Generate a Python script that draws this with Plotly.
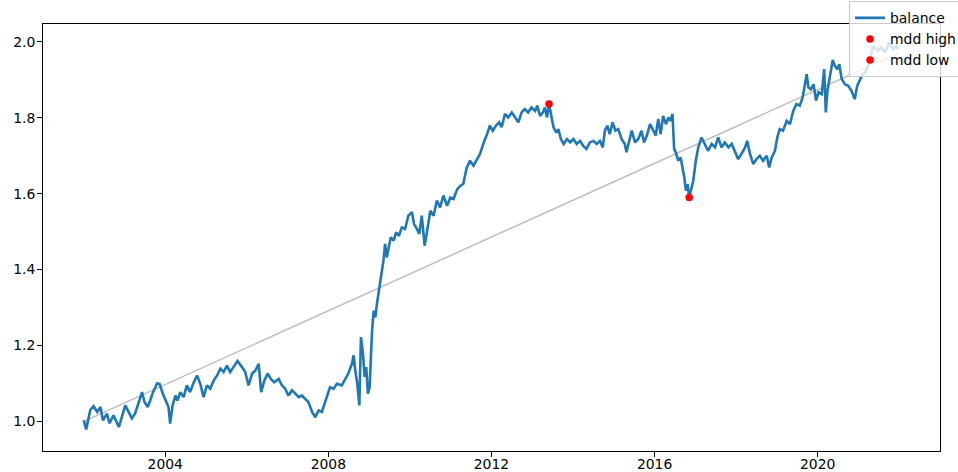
import pandas as pd
import plotly.graph_objects as go

# Account balance over time (decimal years) and its values
years = [
    2002.00, 2002.06, 2002.16, 2002.24, 2002.33, 2002.41, 2002.47, 2002.57, 2002.63, 2002.73,
    2002.86, 2002.94, 2003.02, 2003.10, 2003.18, 2003.26, 2003.35, 2003.43, 2003.49, 2003.57,
    2003.63, 2003.70, 2003.80, 2003.86, 2003.94, 2004.02, 2004.08, 2004.12, 2004.18, 2004.25,
    2004.30, 2004.37, 2004.45, 2004.53, 2004.61, 2004.70, 2004.78, 2004.86, 2004.94, 2005.02,
    2005.10, 2005.19, 2005.27, 2005.35, 2005.43, 2005.51, 2005.59, 2005.67, 2005.77, 2005.88,
    2005.96, 2006.04, 2006.13, 2006.21, 2006.29, 2006.35, 2006.43, 2006.51, 2006.59, 2006.67,
    2006.78, 2006.86, 2006.94, 2007.02, 2007.11, 2007.19, 2007.27, 2007.35, 2007.43, 2007.51,
    2007.60, 2007.68, 2007.76, 2007.84, 2007.96, 2008.04, 2008.13, 2008.21, 2008.33, 2008.41,
    2008.49, 2008.58, 2008.62, 2008.66, 2008.71, 2008.76, 2008.80, 2008.85, 2008.89, 2008.93,
    2008.97, 2009.01, 2009.04, 2009.07, 2009.11, 2009.15, 2009.19, 2009.23, 2009.27, 2009.31,
    2009.35, 2009.39, 2009.43, 2009.48, 2009.53, 2009.60, 2009.66, 2009.73, 2009.80, 2009.88,
    2009.96, 2010.05, 2010.10, 2010.17, 2010.23, 2010.29, 2010.36, 2010.41, 2010.50, 2010.58,
    2010.66, 2010.74, 2010.82, 2010.91, 2010.99, 2011.07, 2011.16, 2011.24, 2011.31, 2011.39,
    2011.47, 2011.56, 2011.64, 2011.72, 2011.81, 2011.88, 2011.96, 2012.03, 2012.11, 2012.19,
    2012.25, 2012.33, 2012.41, 2012.50, 2012.58, 2012.66, 2012.74, 2012.82, 2012.90, 2012.98,
    2013.07, 2013.12, 2013.19, 2013.26, 2013.31, 2013.36, 2013.41, 2013.46, 2013.52, 2013.59,
    2013.64, 2013.70, 2013.77, 2013.85, 2013.93, 2014.01, 2014.09, 2014.17, 2014.25, 2014.33,
    2014.41, 2014.50, 2014.58, 2014.66, 2014.73, 2014.78, 2014.84, 2014.90, 2014.97, 2015.04,
    2015.11, 2015.19, 2015.27, 2015.31, 2015.38, 2015.44, 2015.52, 2015.60, 2015.68, 2015.74,
    2015.81, 2015.89, 2015.97, 2016.03, 2016.09, 2016.15, 2016.21, 2016.28, 2016.34, 2016.39,
    2016.44, 2016.48, 2016.52, 2016.58, 2016.64, 2016.69, 2016.73, 2016.77, 2016.81, 2016.85,
    2016.91, 2016.95, 2017.01, 2017.07, 2017.15, 2017.23, 2017.31, 2017.40, 2017.48, 2017.56,
    2017.64, 2017.72, 2017.81, 2017.89, 2017.97, 2018.05, 2018.13, 2018.22, 2018.27, 2018.34,
    2018.42, 2018.50, 2018.58, 2018.66, 2018.75, 2018.81, 2018.87, 2018.95, 2019.01, 2019.07,
    2019.15, 2019.24, 2019.32, 2019.40, 2019.48, 2019.56, 2019.63, 2019.69, 2019.73, 2019.77,
    2019.83, 2019.90, 2019.96, 2020.02, 2020.10, 2020.16, 2020.20, 2020.24, 2020.30, 2020.37,
    2020.42, 2020.48, 2020.53, 2020.59, 2020.67, 2020.75, 2020.83, 2020.91, 2020.97, 2021.03,
    2021.10, 2021.16, 2021.24, 2021.36, 2021.48, 2021.56, 2021.65, 2021.75, 2021.85, 2021.93,
    2021.97,
]
balance = [
    1.003, 0.979, 1.030, 1.040, 1.025, 1.038, 1.003, 1.020, 0.995, 1.016,
    0.985, 1.011, 1.042, 1.025, 1.008, 1.021, 1.051, 1.077, 1.051, 1.038,
    1.055, 1.077, 1.100, 1.099, 1.073, 1.051, 1.038, 0.994, 1.042, 1.068,
    1.055, 1.077, 1.064, 1.095, 1.077, 1.103, 1.121, 1.099, 1.064, 1.095,
    1.086, 1.108, 1.121, 1.139, 1.130, 1.147, 1.130, 1.143, 1.159, 1.143,
    1.130, 1.095, 1.126, 1.134, 1.152, 1.077, 1.108, 1.126, 1.112, 1.103,
    1.112, 1.095, 1.086, 1.068, 1.082, 1.073, 1.064, 1.068, 1.060, 1.051,
    1.025, 1.011, 1.029, 1.025, 1.064, 1.090, 1.086, 1.099, 1.095, 1.112,
    1.126, 1.152, 1.174, 1.134, 1.099, 1.042, 1.222, 1.178, 1.117, 1.143,
    1.073, 1.090, 1.178, 1.239, 1.292, 1.274, 1.310, 1.336, 1.367, 1.397,
    1.424, 1.468, 1.432, 1.459, 1.485, 1.476, 1.498, 1.489, 1.511, 1.507,
    1.542, 1.551, 1.520, 1.507, 1.494, 1.542, 1.463, 1.494, 1.555, 1.542,
    1.582, 1.564, 1.595, 1.568, 1.590, 1.586, 1.612, 1.621, 1.626, 1.667,
    1.687, 1.674, 1.691, 1.705, 1.735, 1.753, 1.779, 1.766, 1.779, 1.788,
    1.775, 1.810, 1.801, 1.814, 1.801, 1.788, 1.814, 1.823, 1.814, 1.827,
    1.818, 1.832, 1.805, 1.814, 1.827, 1.801, 1.836, 1.810, 1.775, 1.761,
    1.770, 1.744, 1.731, 1.744, 1.735, 1.744, 1.731, 1.739, 1.726, 1.718,
    1.735, 1.739, 1.731, 1.739, 1.722, 1.766, 1.779, 1.757, 1.788, 1.766,
    1.770, 1.744, 1.731, 1.709, 1.739, 1.766, 1.735, 1.744, 1.766, 1.735,
    1.753, 1.783, 1.766, 1.753, 1.797, 1.757, 1.805, 1.783, 1.801, 1.792,
    1.810, 1.718, 1.709, 1.687, 1.695, 1.669, 1.643, 1.608, 1.625, 1.590,
    1.617, 1.634, 1.687, 1.722, 1.748, 1.731, 1.713, 1.731, 1.722, 1.748,
    1.722, 1.735, 1.722, 1.731, 1.713, 1.691, 1.705, 1.722, 1.739, 1.705,
    1.678, 1.691, 1.700, 1.687, 1.700, 1.669, 1.695, 1.713, 1.748, 1.770,
    1.766, 1.792, 1.783, 1.818, 1.836, 1.832, 1.853, 1.897, 1.915, 1.880,
    1.875, 1.888, 1.845, 1.867, 1.862, 1.928, 1.814, 1.871, 1.906, 1.952,
    1.937, 1.928, 1.941, 1.902, 1.888, 1.884, 1.871, 1.849, 1.884, 1.897,
    1.915, 1.919, 1.937, 1.989, 1.976, 1.985, 1.972, 1.998, 1.981, 1.989,
    1.981,
]

# Straight reference line from the first to the last balance date
trend_years = [2002.00, 2021.97]
trend_values = [1.000, 1.970]

# Maximum drawdown peak and trough
mdd_high_years = [2013.41]
mdd_high_values = [1.836]
mdd_low_years = [2016.85]
mdd_low_values = [1.590]

y_ticks = [1.0, 1.2, 1.4, 1.6, 1.8, 2.0]
x_tick_years = [2004, 2008, 2012, 2016, 2020]
x_range_years = [2001.0, 2023.0]
y_range = [0.922, 2.047]


def to_date(y):
    year = int(y)
    return pd.Timestamp(year=year, month=1, day=1) + pd.Timedelta(days=(y - year) * 365.25)


def to_dates(values):
    return [to_date(v) for v in values]


FONT = "DejaVu Sans"
fig = go.Figure()

fig.add_trace(go.Scatter(
    x=to_dates(trend_years), y=trend_values, mode="lines",
    line=dict(color="rgba(128,128,128,0.5)", width=1.5),
    showlegend=False, hoverinfo="skip",
))
fig.add_trace(go.Scatter(
    x=to_dates(years), y=balance, mode="lines", name="balance",
    line=dict(color="#1f77b4", width=2.6),
))
fig.add_trace(go.Scatter(
    x=to_dates(mdd_high_years), y=mdd_high_values, mode="markers", name="mdd high",
    marker=dict(color="red", size=7.5),
))
fig.add_trace(go.Scatter(
    x=to_dates(mdd_low_years), y=mdd_low_values, mode="markers", name="mdd low",
    marker=dict(color="red", size=7.5),
))

axis_style = dict(
    showline=True, mirror=True, linecolor="black", linewidth=1,
    ticks="outside", ticklen=5, tickwidth=1, tickcolor="black",
    showgrid=False, zeroline=False,
    tickfont=dict(family=FONT, size=13.9, color="black"),
)

fig.update_layout(
    width=958, height=472,
    margin=dict(l=43, r=18, t=24, b=21, autoexpand=False),
    paper_bgcolor="white", plot_bgcolor="white",
    font=dict(family=FONT, size=13.9, color="black"),
    xaxis=dict(
        type="date",
        range=to_dates(x_range_years),
        tickvals=to_dates(x_tick_years),
        ticktext=[str(y) for y in x_tick_years],
        ticklabelstandoff=-5,
        **axis_style,
    ),
    yaxis=dict(
        range=y_range,
        tickvals=y_ticks,
        ticktext=[f"{v:.1f}" for v in y_ticks],
        ticklabelstandoff=-1,
        **axis_style,
    ),
    legend=dict(
        x=0.8986, y=1.053, xanchor="left", yanchor="top",
        bgcolor="rgba(255,255,255,0.8)", bordercolor="#cccccc", borderwidth=1,
        font=dict(family=FONT, size=13.9, color="black"),
        itemwidth=30, tracegroupgap=0,
    ),
    showlegend=True,
)

fig.write_html("out.html")
